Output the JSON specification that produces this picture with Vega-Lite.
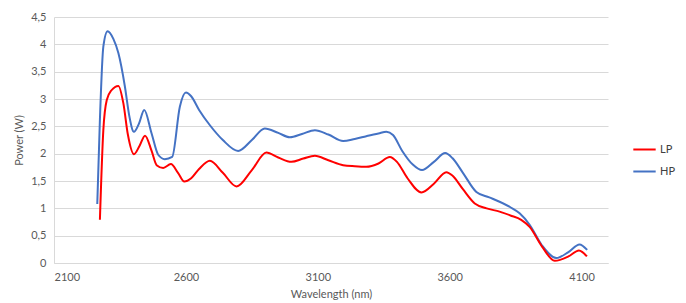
{
  "$schema": "https://vega.github.io/schema/vega-lite/v6.json",
  "autosize": {"type": "none"},
  "padding": {"left": 54, "top": 17, "right": 78, "bottom": 40},
  "width": 554,
  "height": 246,
  "background": "white",
  "config": {
    "font": "Lato",
    "view": {"stroke": null},
    "axis": {"labelFont": "Lato", "titleFont": "Lato", "labelColor": "#595959", "titleColor": "#595959", "labelFontSize": 11, "titleFontSize": 11, "titleFontWeight": "normal"}
  },
  "data": {"values": [
    {"s":"HP","wl":2264,"p":1.08},{"s":"HP","wl":2274,"p":2.62},{"s":"HP","wl":2287,"p":3.96},{"s":"HP","wl":2303,"p":4.24},{"s":"HP","wl":2325,"p":4.10},{"s":"HP","wl":2344,"p":3.84},{"s":"HP","wl":2369,"p":3.22},{"s":"HP","wl":2385,"p":2.70},{"s":"HP","wl":2403,"p":2.40},{"s":"HP","wl":2422,"p":2.55},{"s":"HP","wl":2442,"p":2.80},{"s":"HP","wl":2470,"p":2.37},{"s":"HP","wl":2495,"p":1.98},{"s":"HP","wl":2520,"p":1.90},{"s":"HP","wl":2548,"p":1.94},{"s":"HP","wl":2577,"p":2.86},{"s":"HP","wl":2600,"p":3.12},{"s":"HP","wl":2620,"p":3.05},{"s":"HP","wl":2650,"p":2.80},{"s":"HP","wl":2691,"p":2.52},{"s":"HP","wl":2740,"p":2.25},{"s":"HP","wl":2798,"p":2.05},{"s":"HP","wl":2850,"p":2.25},{"s":"HP","wl":2899,"p":2.46},{"s":"HP","wl":2950,"p":2.38},{"s":"HP","wl":2994,"p":2.30},{"s":"HP","wl":3040,"p":2.36},{"s":"HP","wl":3089,"p":2.43},{"s":"HP","wl":3140,"p":2.35},{"s":"HP","wl":3196,"p":2.23},{"s":"HP","wl":3240,"p":2.27},{"s":"HP","wl":3284,"p":2.32},{"s":"HP","wl":3330,"p":2.37},{"s":"HP","wl":3360,"p":2.40},{"s":"HP","wl":3385,"p":2.34},{"s":"HP","wl":3420,"p":2.05},{"s":"HP","wl":3460,"p":1.80},{"s":"HP","wl":3495,"p":1.70},{"s":"HP","wl":3540,"p":1.85},{"s":"HP","wl":3583,"p":2.01},{"s":"HP","wl":3610,"p":1.92},{"s":"HP","wl":3650,"p":1.65},{"s":"HP","wl":3701,"p":1.30},{"s":"HP","wl":3750,"p":1.20},{"s":"HP","wl":3789,"p":1.12},{"s":"HP","wl":3830,"p":1.02},{"s":"HP","wl":3865,"p":0.91},{"s":"HP","wl":3903,"p":0.70},{"s":"HP","wl":3950,"p":0.32},{"s":"HP","wl":4004,"p":0.09},{"s":"HP","wl":4050,"p":0.20},{"s":"HP","wl":4092,"p":0.34},{"s":"HP","wl":4121,"p":0.24},
    {"s":"LP","wl":2274,"p":0.79},{"s":"LP","wl":2287,"p":2.43},{"s":"LP","wl":2300,"p":2.98},{"s":"LP","wl":2318,"p":3.16},{"s":"LP","wl":2344,"p":3.24},{"s":"LP","wl":2363,"p":2.92},{"s":"LP","wl":2380,"p":2.35},{"s":"LP","wl":2403,"p":1.99},{"s":"LP","wl":2425,"p":2.15},{"s":"LP","wl":2445,"p":2.33},{"s":"LP","wl":2470,"p":2.05},{"s":"LP","wl":2489,"p":1.79},{"s":"LP","wl":2514,"p":1.74},{"s":"LP","wl":2543,"p":1.81},{"s":"LP","wl":2570,"p":1.65},{"s":"LP","wl":2594,"p":1.49},{"s":"LP","wl":2620,"p":1.55},{"s":"LP","wl":2650,"p":1.72},{"s":"LP","wl":2691,"p":1.87},{"s":"LP","wl":2740,"p":1.65},{"s":"LP","wl":2792,"p":1.40},{"s":"LP","wl":2850,"p":1.70},{"s":"LP","wl":2905,"p":2.02},{"s":"LP","wl":2950,"p":1.93},{"s":"LP","wl":3000,"p":1.85},{"s":"LP","wl":3045,"p":1.91},{"s":"LP","wl":3089,"p":1.96},{"s":"LP","wl":3140,"p":1.88},{"s":"LP","wl":3196,"p":1.79},{"s":"LP","wl":3240,"p":1.77},{"s":"LP","wl":3284,"p":1.76},{"s":"LP","wl":3330,"p":1.82},{"s":"LP","wl":3373,"p":1.94},{"s":"LP","wl":3400,"p":1.85},{"s":"LP","wl":3440,"p":1.55},{"s":"LP","wl":3493,"p":1.29},{"s":"LP","wl":3540,"p":1.45},{"s":"LP","wl":3587,"p":1.66},{"s":"LP","wl":3610,"p":1.60},{"s":"LP","wl":3650,"p":1.35},{"s":"LP","wl":3695,"p":1.09},{"s":"LP","wl":3740,"p":1.00},{"s":"LP","wl":3789,"p":0.94},{"s":"LP","wl":3830,"p":0.87},{"s":"LP","wl":3871,"p":0.79},{"s":"LP","wl":3903,"p":0.66},{"s":"LP","wl":3950,"p":0.30},{"s":"LP","wl":3998,"p":0.04},{"s":"LP","wl":4050,"p":0.12},{"s":"LP","wl":4090,"p":0.23},{"s":"LP","wl":4120,"p":0.12}
  ]},
  "mark": {"type": "line", "interpolate": "monotone", "strokeWidth": 2},
  "encoding": {
    "x": {"field": "wl", "type": "quantitative", "title": "Wavelength (nm)",
      "scale": {"domain": [2100, 4200], "nice": false, "zero": false},
      "axis": {"values": [2100, 2600, 3100, 3600, 4100], "format": "d", "grid": false, "ticks": false, "domainColor": "#D9D9D9", "labelPadding": 8, "titlePadding": 6}},
    "y": {"field": "p", "type": "quantitative", "title": "Power (W)",
      "scale": {"domain": [0, 4.5], "nice": false},
      "axis": {"values": [0, 0.5, 1, 1.5, 2, 2.5, 3, 3.5, 4, 4.5], "labelExpr": "replace(toString(datum.value), '.', ',')", "grid": true, "gridColor": "#D9D9D9", "ticks": false, "domainColor": "#D9D9D9", "labelPadding": 8, "titlePadding": 6}},
    "color": {"field": "s", "type": "nominal",
      "scale": {"domain": ["LP", "HP"], "range": ["#FF0000", "#4472C4"]},
      "legend": {"title": null, "orient": "none", "legendX": 578, "legendY": 120, "symbolType": "stroke", "symbolStrokeWidth": 2, "symbolSize": 500, "rowPadding": 4, "labelFont": "Lato", "labelFontSize": 11, "labelColor": "#404040", "labelOffset": 3}}
  }
}
